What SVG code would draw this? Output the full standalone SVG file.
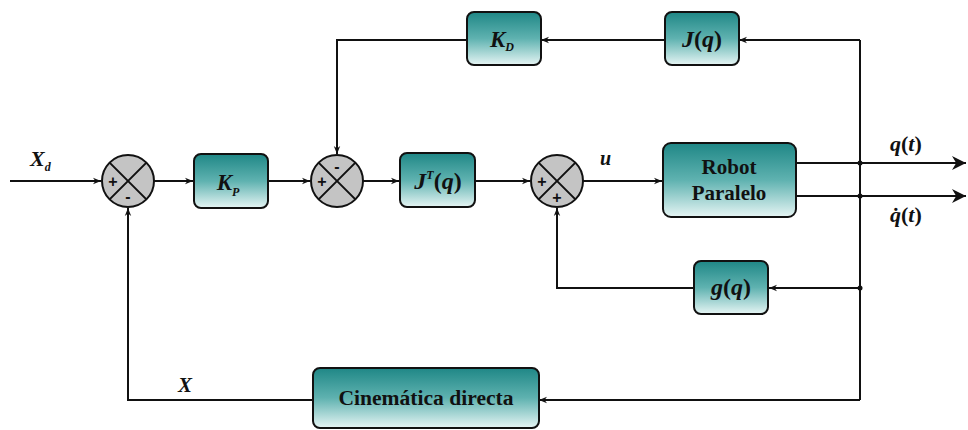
<svg xmlns="http://www.w3.org/2000/svg" width="968" height="430" viewBox="0 0 968 430">
<defs>
<linearGradient id="tg" x1="0" y1="0" x2="0" y2="1">
<stop offset="0" stop-color="#1f8786"/>
<stop offset="0.5" stop-color="#5fb2b0"/>
<stop offset="1" stop-color="#e6f5f4"/>
</linearGradient>
<marker id="a" viewBox="0 0 10 10" refX="10" refY="5" markerWidth="8" markerHeight="8" markerUnits="userSpaceOnUse" orient="auto">
<path d="M0,1 L10,5 L0,9 L3,5 Z" fill="#111"/>
</marker>
<marker id="big" viewBox="0 0 10 10" refX="10" refY="5" markerWidth="16" markerHeight="14" markerUnits="userSpaceOnUse" orient="auto">
<path d="M0,0 L10,5 L0,10 L3,5 Z" fill="#111"/>
</marker>
</defs>
<style>
.box{fill:url(#tg);stroke:#111;stroke-width:2}
.sum{fill:#c4c4c4;stroke:#111;stroke-width:2}
.x{stroke:#111;stroke-width:2}
.ln{fill:none;stroke:#111;stroke-width:2}
.m{font-style:italic;font-weight:bold;fill:#111}
.t{font-weight:bold;fill:#111}
.s{font-weight:bold;fill:#111;font-size:16px}
</style>
<rect width="968" height="430" fill="#ffffff"/>
<g id="connectors">
<path class="ln" d="M10,181 H101" marker-end="url(#a)"/>
<path class="ln" d="M154,181 H193" marker-end="url(#a)"/>
<path class="ln" d="M268,181 H310" marker-end="url(#a)"/>
<path class="ln" d="M363,181 H399" marker-end="url(#a)"/>
<path class="ln" d="M475,181 H530" marker-end="url(#a)"/>
<path class="ln" d="M583,181 H662" marker-end="url(#a)"/>
<path class="ln" d="M796,163 H966" marker-end="url(#big)"/>
<path class="ln" d="M796,196 H966" marker-end="url(#big)"/>
<path class="ln" d="M860,40 V400"/>
<path class="ln" d="M860,40 H739" marker-end="url(#a)"/>
<path class="ln" d="M665,40 H541" marker-end="url(#a)"/>
<path class="ln" d="M467,40 H337 V154" marker-end="url(#a)"/>
<path class="ln" d="M860,288 H769" marker-end="url(#a)"/>
<path class="ln" d="M694,288 H557 V208" marker-end="url(#a)"/>
<path class="ln" d="M860,400 H539" marker-end="url(#a)"/>
<path class="ln" d="M313,400 H128 V208" marker-end="url(#a)"/>
<circle cx="860" cy="163" r="2.5" fill="#111"/>
<circle cx="860" cy="196" r="2.5" fill="#111"/>
<circle cx="860" cy="288" r="2.5" fill="#111"/>
</g>
<g font-family="Liberation Sans, Arial, sans-serif">
<g id="sum1">
<circle class="sum" cx="128" cy="181" r="26"/>
<path class="x" d="M109.6,162.6 L146.4,199.4 M146.4,162.6 L109.6,199.4"/>
<text class="s" x="113" y="187" text-anchor="middle">+</text>
<text class="s" x="128" y="202" text-anchor="middle">-</text>
</g>
<g id="sum2">
<circle class="sum" cx="337" cy="181" r="26"/>
<path class="x" d="M318.6,162.6 L355.4,199.4 M355.4,162.6 L318.6,199.4"/>
<text class="s" x="322" y="187" text-anchor="middle">+</text>
<text class="s" x="337" y="172" text-anchor="middle">-</text>
</g>
<g id="sum3">
<circle class="sum" cx="557" cy="181" r="26"/>
<path class="x" d="M538.6,162.6 L575.4,199.4 M575.4,162.6 L538.6,199.4"/>
<text class="s" x="542" y="187" text-anchor="middle">+</text>
<text class="s" x="557" y="203" text-anchor="middle">+</text>
</g>
</g>
<g font-family="Times New Roman, Liberation Serif, DejaVu Serif, serif">
<g id="kp">
<rect class="box" x="194" y="154" width="74" height="54" rx="7"/>
<text class="m" x="228" y="190" font-size="23" text-anchor="middle">K<tspan font-size="12" dy="6">P</tspan></text>
</g>
<g id="jt">
<rect class="box" x="400" y="153" width="75" height="54" rx="7"/>
<text class="m" x="438" y="189" font-size="24" text-anchor="middle">J<tspan font-size="12" dy="-10">T</tspan><tspan dy="10" font-style="normal">(</tspan>q<tspan font-style="normal">)</tspan></text>
</g>
<g id="robot">
<rect class="box" x="663" y="143" width="133" height="74" rx="8"/>
<text class="t" x="729" y="174" font-size="21" text-anchor="middle">Robot</text>
<text class="t" x="729" y="200" font-size="21" text-anchor="middle">Paralelo</text>
</g>
<g id="kd">
<rect class="box" x="467" y="12" width="74" height="53" rx="7"/>
<text class="m" x="502" y="47" font-size="23" text-anchor="middle">K<tspan font-size="12" dy="4">D</tspan></text>
</g>
<g id="jq">
<rect class="box" x="665" y="12" width="74" height="53" rx="7"/>
<text class="m" x="702" y="47" font-size="24" text-anchor="middle">J<tspan font-style="normal">(</tspan>q<tspan font-style="normal">)</tspan></text>
</g>
<g id="gq">
<rect class="box" x="694" y="261" width="74" height="53" rx="7"/>
<text class="m" x="731" y="295" font-size="24" text-anchor="middle">g<tspan font-style="normal">(</tspan>q<tspan font-style="normal">)</tspan></text>
</g>
<g id="cine">
<rect class="box" x="313" y="368" width="226" height="60" rx="7"/>
<text class="t" x="426" y="405" font-size="20" text-anchor="middle" textLength="175" lengthAdjust="spacingAndGlyphs">Cinemática directa</text>
</g>
<g id="labels">
<text class="m" x="30" y="166" font-size="22">X<tspan font-size="12" dy="5">d</tspan></text>
<text class="m" x="600" y="165" font-size="20">u</text>
<text class="m" x="890" y="151" font-size="22">q<tspan font-style="normal">(</tspan>t<tspan font-style="normal">)</tspan></text>
<text class="m" x="890" y="222" font-size="22">q&#x307;<tspan font-style="normal">(</tspan>t<tspan font-style="normal">)</tspan></text>
<text class="m" x="178" y="392" font-size="21">X</text>
</g>
</g>
</svg>
